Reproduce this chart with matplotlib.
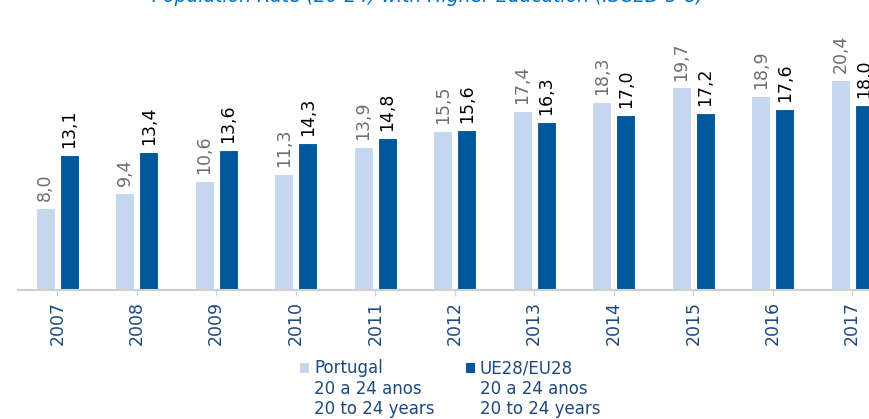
import matplotlib.pyplot as plt
import numpy as np
from matplotlib.patches import Rectangle

years = ['2007', '2008', '2009', '2010', '2011', '2012', '2013', '2014', '2015', '2016', '2017']
portugal = [8.0, 9.4, 10.6, 11.3, 13.9, 15.5, 17.4, 18.3, 19.7, 18.9, 20.4]
eu28 = [13.1, 13.4, 13.6, 14.3, 14.8, 15.6, 16.3, 17.0, 17.2, 17.6, 18.0]
legend_labels = ['Portugal\n20 a 24 anos\n20 to 24 years',
                 'UE28/EU28\n20 a 24 anos\n20 to 24 years']

light = '#C5D7EF'
dark = '#00589C'
navy = '#1F497D'

plt.rcParams['font.family'] = 'DejaVu Sans'

fig = plt.figure(figsize=(8.7, 4.19), dpi=100)
W, H = 870, 419
ax = fig.add_axes([17.5 / W, (H - 290) / H, 874.5 / W, 257 / H])

x = np.arange(len(years))
off = 0.15
bw = 0.24
ax.bar(x - off, portugal, bw, color=light, edgecolor='white', linewidth=0.8)
ax.bar(x + off, eu28, bw, color=dark, edgecolor='white', linewidth=0.8)

for i in range(len(years)):
    ax.annotate(f'{portugal[i]:.1f}'.replace('.', ','), (x[i] - off, portugal[i]),
                xytext=(0, 5), textcoords='offset points', rotation=90,
                ha='center', va='bottom', fontsize=12.5, color='#6E6E6E')
    ax.annotate(f'{eu28[i]:.1f}'.replace('.', ','), (x[i] + off, eu28[i]),
                xytext=(0, 5), textcoords='offset points', rotation=90,
                ha='center', va='bottom', fontsize=12.5, color='black')

ax.set_xlim(-0.5, len(years) - 0.5)
ax.set_ylim(0, 25)
ax.set_xticks(x)
ax.set_xticklabels(years, rotation=90, fontsize=12.5, color=navy)
ax.tick_params(axis='x', length=4, color='#D0D0D0', pad=4)
ax.set_yticks([])
for s in ['top', 'right', 'left']:
    ax.spines[s].set_visible(False)
ax.spines['bottom'].set_color('#D0D0D0')
ax.spines['bottom'].set_linewidth(1.5)

fig.text(428 / W, 1 + 3 / H, 'Population Rate (20-24) with Higher Education (ISCED 5-8)',
         ha='center', va='center', fontsize=13.5, style='italic', color='#0070C0')

# legend drawn by hand so the square sits on the first line
for px, col, lab in [(300, light, legend_labels[0]), (466, dark, legend_labels[1])]:
    fig.patches.append(Rectangle((px / W, 1 - 373 / H), 9 / W, 10 / H,
                                 transform=fig.transFigure, facecolor=col, edgecolor='none'))
    fig.text((px + 14) / W, 1 - 359 / H, lab, ha='left', va='top',
             fontsize=12, color=navy, linespacing=1.18)

fig.savefig('out.png', dpi=100)
